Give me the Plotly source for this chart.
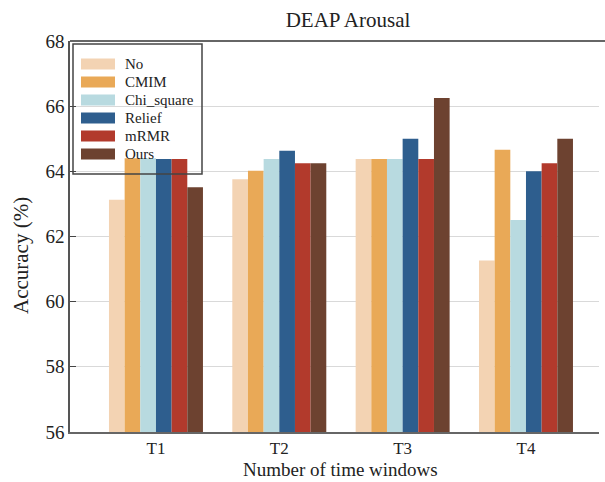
import plotly.graph_objects as go

# Accuracy (%) on DEAP arousal per feature-selection method and time-window setting
windows = ["T1", "T2", "T3", "T4"]
methods = ["No", "CMIM", "Chi_square", "Relief", "mRMR", "Ours"]
colors = ["#F3D3B3", "#E9A957", "#B8DAE0", "#2E5E8E", "#B23A2C", "#6D4230"]

acc_no = [63.13, 63.76, 64.38, 61.26]
acc_cmim = [64.40, 64.02, 64.38, 64.66]
acc_chi = [64.40, 64.38, 64.38, 62.51]
acc_relief = [64.38, 64.63, 65.00, 64.00]
acc_mrmr = [64.38, 64.25, 64.38, 64.25]
acc_ours = [63.51, 64.25, 66.25, 65.00]
series = [acc_no, acc_cmim, acc_chi, acc_relief, acc_mrmr, acc_ours]

yticks = [56, 58, 60, 62, 64, 66, 68]

W, H = 605, 482
L, R, T, B = 70, 6, 41, 50
FONT = "Liberation Serif, Times New Roman, serif"
TXT = "#222"

fig = go.Figure()
for name, vals, col in zip(methods, series, colors):
    fig.add_trace(go.Bar(x=windows, y=vals, name=name, marker=dict(color=col, line=dict(width=0)),
                         showlegend=False))

pw, ph = W - L - R, H - T - B


def px_x(p):
    return (p - L) / pw


def px_y(p):
    return (H - B - p) / ph


shapes = []
annotations = []
# top frame line, running to the page edge
shapes.append(dict(type="line", xref="paper", yref="paper", x0=0, x1=px_x(W), y0=1, y1=1,
                   line=dict(color="#666", width=2), layer="above"))
# legend frame
shapes.append(dict(type="rect", xref="paper", yref="paper",
                   x0=px_x(73), x1=px_x(202), y0=px_y(174), y1=px_y(44),
                   line=dict(color="#444", width=1.5), fillcolor="rgba(0,0,0,0)", layer="above"))
for i, (name, col) in enumerate(zip(methods, colors)):
    cy = 64 + i * 18
    shapes.append(dict(type="rect", xref="paper", yref="paper",
                       x0=px_x(81), x1=px_x(115), y0=px_y(cy + 5.5), y1=px_y(cy - 5.5),
                       line=dict(width=0), fillcolor=col, layer="above"))
    annotations.append(dict(xref="paper", yref="paper", x=px_x(123), y=px_y(cy),
                            xanchor="left", yanchor="middle", text=name, showarrow=False,
                            font=dict(family=FONT, size=15, color=TXT)))

# axis titles
annotations.append(dict(xref="paper", yref="paper", x=px_x(340), y=px_y(482),
                        xanchor="center", yanchor="bottom", text="Number of time windows",
                        showarrow=False, font=dict(family=FONT, size=19, color=TXT)))
annotations.append(dict(xref="paper", yref="paper", x=px_x(21), y=px_y(256),
                        xanchor="center", yanchor="middle", text="Accuracy (%)", textangle=-90,
                        showarrow=False, font=dict(family=FONT, size=21, color=TXT)))

# x range chosen so the plot area reaches the page edge at the same category spacing
spacing = 123.3
x_end = 3 + (W - R - 526) / spacing

fig.update_layout(
    width=W, height=H,
    margin=dict(l=L, r=R, t=T, b=B),
    paper_bgcolor="white", plot_bgcolor="white",
    barmode="group", bargap=0.238, bargroupgap=0,
    title=dict(text="DEAP Arousal", x=348 / W, xanchor="center", y=1 - 20 / H, yanchor="middle",
               font=dict(family=FONT, size=21, color=TXT)),
    font=dict(family=FONT, color=TXT),
    shapes=shapes, annotations=annotations,
    xaxis=dict(range=[-0.697, x_end], showline=True, linecolor="#666", linewidth=2,
               ticks="", showgrid=False, zeroline=False, mirror=False,
               tickfont=dict(family=FONT, size=17, color=TXT)),
    yaxis=dict(range=[56, 68], tickvals=yticks, showline=True, linecolor="#555", linewidth=1.5,
               ticks="inside", ticklen=6, tickcolor="#444", showgrid=True, gridcolor="#D9D9D9",
               gridwidth=1, zeroline=False, mirror=False,
               tickfont=dict(family=FONT, size=19, color=TXT)),
)

fig.write_html("out.html")
